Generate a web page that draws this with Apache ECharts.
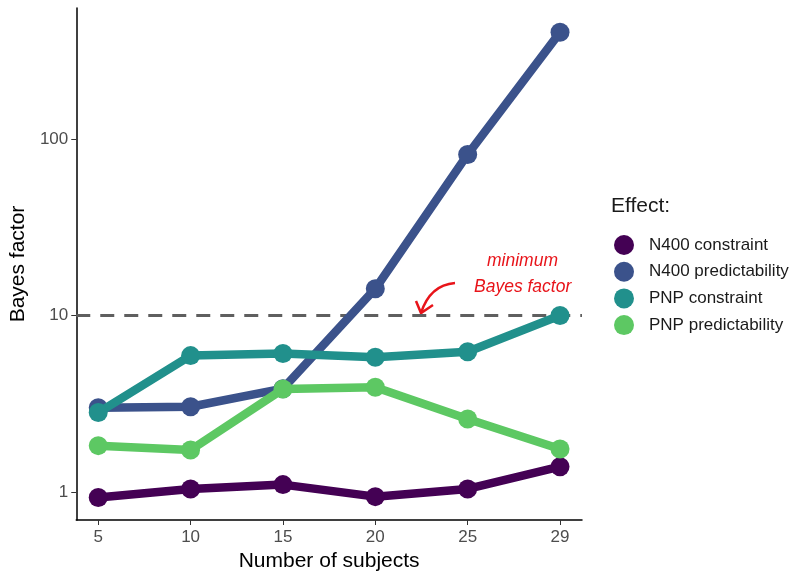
<!DOCTYPE html>
<html>
<head>
<meta charset="utf-8">
<script src="https://cdn.jsdelivr.net/npm/echarts@6/dist/echarts.min.js"></script>
<style>html,body{margin:0;padding:0;background:#fff}#c{width:799px;height:578px}</style>
</head>
<body>
<div id="c"></div>
<script>
const categories = ['5', '10', '15', '20', '25', '29'];
const seriesNames = ['N400 constraint', 'N400 predictability', 'PNP constraint', 'PNP predictability'];
const n400Constraint = [0.93, 1.04, 1.10, 0.94, 1.04, 1.39];
const n400Predictability = [3.0, 3.04, 3.85, 14.2, 82, 404];
const pnpConstraint = [2.82, 5.93, 6.1, 5.8, 6.24, 10.0];
const pnpPredictability = [1.83, 1.73, 3.83, 3.92, 2.59, 1.75];
const yTicks = [1, 10, 100];
const threshold = 10;
const colors = ['#440154', '#3B528B', '#21908C', '#5DC863'];

const FONT = 'Liberation Sans, Arial, sans-serif';
const allData = [n400Constraint, n400Predictability, pnpConstraint, pnpPredictability];
const xIdx = categories.map((c, i) => i);

const chart = echarts.init(document.getElementById('c'), null, {renderer: 'canvas'});
const series = allData.map((d, k) => ({
  name: seriesNames[k],
  type: 'line',
  data: d.map((v, i) => [xIdx[i], v]),
  symbol: 'circle',
  symbolSize: 19,
  lineStyle: {width: 8.5, color: colors[k]},
  itemStyle: {color: colors[k]},
  z: 3 + k,
  animation: false
}));
series[0].markLine = {
  silent: true,
  symbol: 'none',
  label: {show: false},
  lineStyle: {color: '#5f5f5f', width: 3, type: [14, 10]},
  data: [{yAxis: threshold}],
  z: 1
};

chart.setOption({
  animation: false,
  grid: {left: 75, right: 217, top: 8, bottom: 58},
  title: {
    text: 'Effect:', left: 606, top: 191,
    textStyle: {fontFamily: FONT, fontSize: 21, fontWeight: 'normal', color: '#1a1a1a'}
  },
  legend: {
    orient: 'vertical', left: 609, top: 230,
    itemWidth: 28, itemHeight: 20, itemGap: 6.7,
    icon: 'circle',
    data: seriesNames,
    textStyle: {fontFamily: FONT, fontSize: 17, color: '#1a1a1a', padding: [0, 0, 0, 6]}
  },
  xAxis: {
    type: 'value',
    min: -0.238, max: 5.238,
    name: 'Number of subjects',
    nameLocation: 'middle', nameGap: 31,
    nameTextStyle: {fontFamily: FONT, fontSize: 21, color: '#000'},
    axisLine: {show: true, onZero: false, lineStyle: {color: '#000', width: 1.5}},
    axisTick: {show: true, length: 5, lineStyle: {color: '#333'}, customValues: xIdx},
    axisLabel: {
      fontFamily: FONT, fontSize: 17, color: '#4d4d4d', margin: 9,
      customValues: xIdx,
      formatter: v => categories[Math.round(v)]
    },
    splitLine: {show: false}
  },
  yAxis: {
    type: 'log', logBase: 10,
    min: 0.693, max: 555,
    name: 'Bayes factor',
    nameLocation: 'middle', nameGap: 41, nameRotate: 90,
    nameTextStyle: {fontFamily: FONT, fontSize: 21, color: '#000'},
    axisLine: {show: true, onZero: false, lineStyle: {color: '#000', width: 1.5}},
    axisTick: {show: true, length: 5, lineStyle: {color: '#333'}, customValues: yTicks},
    axisLabel: {fontFamily: FONT, fontSize: 17, color: '#4d4d4d', margin: 8, customValues: yTicks,
      formatter: v => String(Math.round(v))},
    splitLine: {show: false},
    minorTick: {show: false}
  },
  graphic: [
    {type: 'text', left: 487, top: 252, style: {text: 'minimum', fontFamily: FONT, fontSize: 17.5, fontStyle: 'italic', fill: '#e8141a'}},
    {type: 'text', left: 474, top: 278, style: {text: 'Bayes factor', fontFamily: FONT, fontSize: 17.5, fontStyle: 'italic', fill: '#e8141a'}},
    {type: 'bezierCurve', shape: {x1: 455, y1: 283, cpx1: 430, cpy1: 285, x2: 421, y2: 313}, style: {stroke: '#e8141a', lineWidth: 2.5, fill: null}},
    {type: 'polyline', shape: {points: [[416, 301], [421, 313], [433, 305]]}, style: {stroke: '#e8141a', lineWidth: 2.5, fill: null, lineJoin: 'miter'}}
  ],
  series: series
});
</script>
</body>
</html>
